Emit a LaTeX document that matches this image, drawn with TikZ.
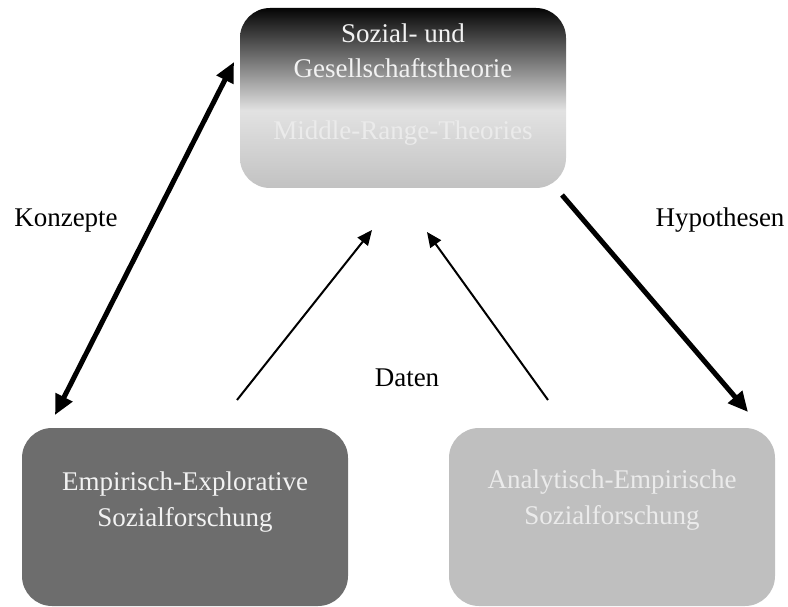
\documentclass[tikz,border=0pt]{standalone}
\usepackage{fontspec}
\setmainfont{Liberation Serif}
\usetikzlibrary{arrows.meta}
\definecolor{gbot}{HTML}{C2C2C2}
\definecolor{gmid}{HTML}{E2E2E2}
\definecolor{gtop}{HTML}{050505}
\definecolor{darkbox}{HTML}{6D6D6D}
\definecolor{lightbox}{HTML}{BFBFBF}
\definecolor{whitetxt}{HTML}{F2F2F2}
\definecolor{midtxt}{HTML}{EBEBEB}
\pgfdeclareverticalshading{topgrad}{100bp}{color(0bp)=(gbot); color(25bp)=(gbot); color(46.5bp)=(gmid); color(75bp)=(gtop); color(100bp)=(gtop)}
\tikzset{
  box/.style={rectangle, rounded corners=30pt, minimum width=326pt, minimum height=178pt, inner sep=0pt},
  txt/.style={font=\fontsize{27}{35}\selectfont, inner sep=0pt, anchor=base},
  lbl/.style={font=\fontsize{27}{35}\selectfont, inner sep=0pt, anchor=base, text=black},
  thickarrow/.style={line width=5pt, -{Triangle[length=20pt,width=18pt]}},
  thinarrow/.style={line width=2pt, -{Triangle[length=15pt,width=13pt]}}
}
\begin{document}
\begin{tikzpicture}[x=1pt,y=-1pt]
\useasboundingbox (0,0) rectangle (788,607);
% boxes
\node[box, shading=topgrad, minimum height=180pt] (T) at (403,98) {};
\node[box, fill=darkbox] (L) at (185,517) {};
\node[box, fill=lightbox] (R) at (612,517) {};
% texts in boxes
\node[txt, text=whitetxt] (t1) at (403,43) {Sozial- und};
\node[txt, text=whitetxt] (t2) at (403,78) {Gesellschaftstheorie};
\node[txt, text=midtxt] (t3) at (403,140) {Middle-Range-Theories};
\node[txt, text=whitetxt] (l1) at (185,490) {Empirisch-Explorative};
\node[txt, text=whitetxt] (l2) at (185,526) {Sozialforschung};
\node[txt, text=midtxt] (r1) at (612,488) {Analytisch-Empirische};
\node[txt, text=midtxt] (r2) at (612,524) {Sozialforschung};
% labels
\node[lbl] (konz) at (66,226) {Konzepte};
\node[lbl] (hyp) at (720,226) {Hypothesen};
\node[lbl] (dat) at (407,386) {Daten};
% connector end points
\coordinate (kA) at (55,415);
\coordinate (kB) at (234,62);
\coordinate (hA) at (562,195);
\coordinate (hB) at (748,412);
\coordinate (dA) at (237,400);
\coordinate (dB) at (372,230);
\coordinate (eA) at (548,400);
\coordinate (eB) at (427,232);
% connectors
\draw[line width=5pt, {Triangle[length=20pt,width=18pt]}-{Triangle[length=20pt,width=18pt]}] (kA) -- (kB);
\draw[thickarrow] (hA) -- (hB);
\draw[thinarrow] (dA) -- (dB);
\draw[thinarrow] (eA) -- (eB);
\end{tikzpicture}
\end{document}
